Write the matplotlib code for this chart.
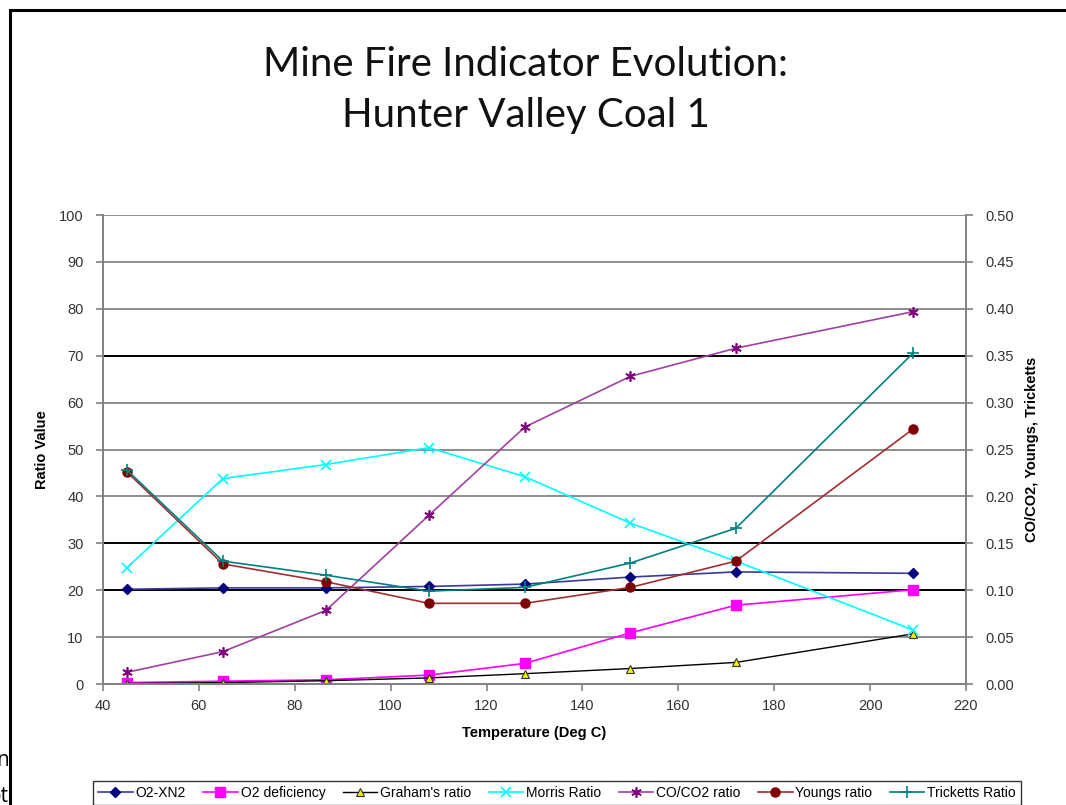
import matplotlib
matplotlib.use('Agg')
import matplotlib.pyplot as plt
from matplotlib.lines import Line2D

# data
temperature = [45, 65, 86.5, 108, 128, 150, 172, 209]

o2_xn2 = [20.2, 20.5, 20.5, 20.8, 21.3, 22.8, 23.9, 23.6]
o2_deficiency = [0.3, 0.6, 0.9, 1.9, 4.4, 10.9, 16.8, 20.1]
grahams_ratio = [0.1, 0.3, 0.7, 1.3, 2.2, 3.3, 4.6, 10.7]
morris_ratio = [24.8, 43.8, 46.8, 50.4, 44.2, 34.3, 26.2, 11.5]

# right axis series
co_co2_ratio = [0.0125, 0.0345, 0.0785, 0.180, 0.274, 0.328, 0.358, 0.397]
youngs_ratio = [0.226, 0.128, 0.109, 0.086, 0.086, 0.103, 0.131, 0.272]
tricketts_ratio = [0.228, 0.131, 0.116, 0.099, 0.103, 0.129, 0.166, 0.353]

x_ticks = [40, 60, 80, 100, 120, 140, 160, 180, 200, 220]
left_ticks = [0, 10, 20, 30, 40, 50, 60, 70, 80, 90, 100]
right_ticks = [0.0, 0.05, 0.10, 0.15, 0.20, 0.25, 0.30, 0.35, 0.40, 0.45, 0.50]
dark_grid = [20, 30, 70]

plt.rcParams['font.family'] = ['Liberation Sans', 'DejaVu Sans']

fig = plt.figure(figsize=(10.66, 8.05), dpi=100)
ax = fig.add_axes([103 / 1066, 1 - 684 / 805, (966 - 103) / 1066, (684 - 215) / 805])
ax2 = ax.twinx()

# frame around the chart object
fig.add_artist(Line2D([10 / 1066, 10 / 1066], [0, 1 - 10 / 805], transform=fig.transFigure,
                      color='black', lw=2.2))
fig.add_artist(Line2D([10 / 1066, 1], [1 - 10 / 805, 1 - 10 / 805], transform=fig.transFigure,
                      color='black', lw=2.2))
# bits of the page text peeking out on the left
fig.text(9 / 1066, 1 - 760 / 805, 'n', ha='right', va='center', fontsize=15, family='Open Sans')
fig.text(9 / 1066, 1 - 796 / 805, 'ot', ha='right', va='center', fontsize=15, family='Open Sans')

fig.text(0.493, 1 - 65 / 805, 'Mine Fire Indicator Evolution:', ha='center', va='center',
         fontsize=29, family='Lato', color='#111111')
fig.text(0.493, 1 - 116 / 805, 'Hunter Valley Coal 1', ha='center', va='center',
         fontsize=29, family='Lato', color='#111111')

# grid
ax.set_axisbelow(True)
for v in left_ticks[1:]:
    ax.axhline(v, color='black' if v in dark_grid else '#8c8c8c', lw=1.4, zorder=0)

l1, = ax.plot(temperature, o2_xn2, color='#3a3a9a', lw=1.2, marker='D', ms=5,
              mfc='#000080', mec='#000080', label='O2-XN2')
l2, = ax.plot(temperature, o2_deficiency, color='#ff00ff', lw=1.2, marker='s', ms=6.5,
              mfc='#ff00ff', mec='#ff00ff', label='O2 deficiency')
l3, = ax.plot(temperature, grahams_ratio, color='black', lw=1.0, marker='^', ms=6,
              mfc='#f0f000', mec='#333333', mew=0.8, label="Graham's ratio")
l4, = ax.plot(temperature, morris_ratio, color='#00ffff', lw=1.2, marker='x', ms=7,
              mew=1.2, label='Morris Ratio')
l5, = ax2.plot(temperature, co_co2_ratio, color='#a040a0', lw=1.2, marker=(6, 2, 0), ms=7.5,
               mec='#800080', mew=1.2, label='CO/CO2 ratio')
l6, = ax2.plot(temperature, youngs_ratio, color='#a03030', lw=1.2, marker='o', ms=6.5,
               mfc='#800000', mec='#800000', label='Youngs ratio')
l7, = ax2.plot(temperature, tricketts_ratio, color='#008080', lw=1.2, marker='+', ms=8,
               mew=1.2, label='Tricketts Ratio')

ax.set_xlim(40, 220)
ax.set_ylim(0, 100)
ax2.set_ylim(0, 0.5)
ax.set_xticks(x_ticks)
ax.set_yticks(left_ticks)
ax2.set_yticks(right_ticks)
ax2.set_yticklabels(['%.2f' % t for t in right_ticks])

for a in (ax, ax2):
    for s in a.spines.values():
        s.set_color('#808080')
        s.set_linewidth(1.2)
    a.spines['top'].set_visible(False)
    a.tick_params(colors='#808080', labelcolor='#333333', labelsize=10.5, length=5, width=1.2)

ax.set_xlabel('Temperature (Deg C)', fontsize=10.5, fontweight='bold', labelpad=9)
ax.set_ylabel('Ratio Value', fontsize=10.5, fontweight='bold', labelpad=7)
ax2.set_ylabel('CO/CO2, Youngs, Tricketts', fontsize=10.5, fontweight='bold', labelpad=8)
ax.tick_params(axis='x', pad=6)
ax.tick_params(axis='y', pad=9)
ax2.tick_params(axis='y', pad=9)

leg = fig.legend(handles=[l1, l2, l3, l4, l5, l6, l7], loc='upper left',
                 bbox_to_anchor=(93 / 1066, 1 - 781 / 805), ncol=7, fontsize=10,
                 frameon=True, fancybox=False, edgecolor='black', handlelength=2.5,
                 handletextpad=0.2, columnspacing=1.25, borderpad=0.35, borderaxespad=0)
leg.get_frame().set_linewidth(1.0)

fig.savefig('out.png', dpi=100)
